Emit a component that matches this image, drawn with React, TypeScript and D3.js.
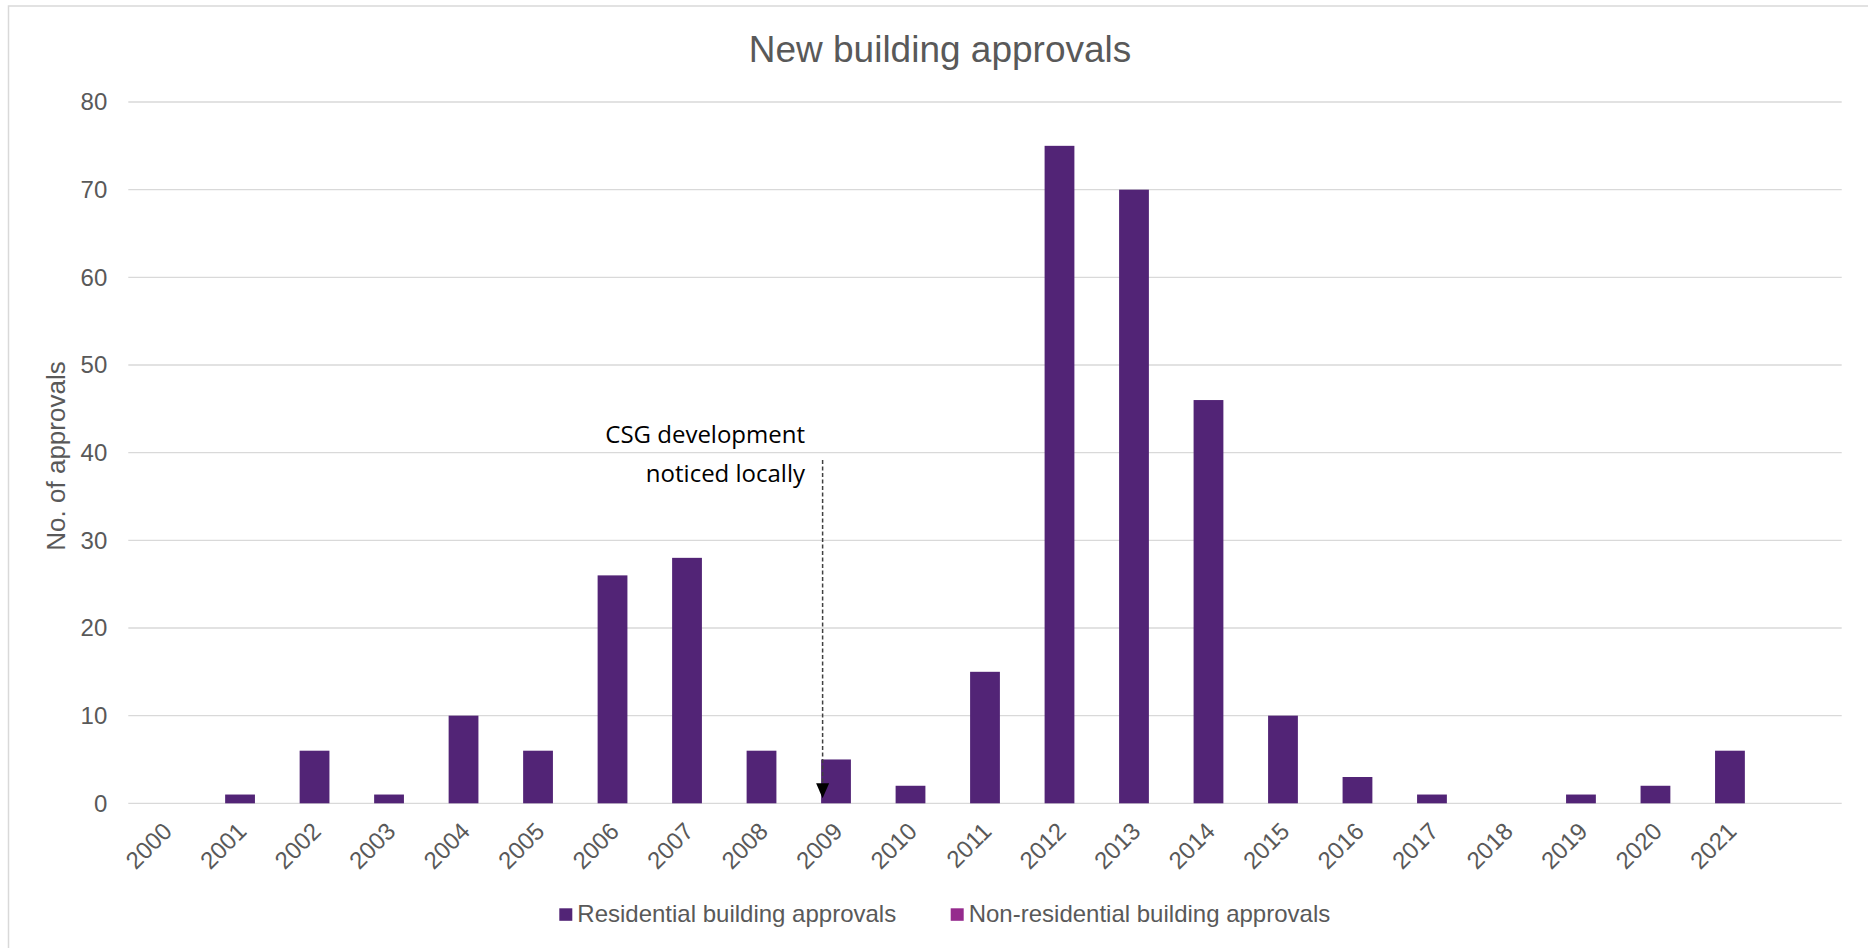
import React from "react";
import * as d3 from "d3";

const years = ["2000","2001","2002","2003","2004","2005","2006","2007","2008","2009","2010","2011","2012","2013","2014","2015","2016","2017","2018","2019","2020","2021"];
const residential = [0,1,6,1,10,6,26,28,6,5,2,15,75,70,46,10,3,1,0,1,2,6];
const nonResidential = [0,0,0,0,0,0,0,0,0,0,0,0,0,0,0,0,0,0,0,0,0,0];
const yTicks = [0,10,20,30,40,50,60,70,80];
const seriesNames = ["Residential building approvals", "Non-residential building approvals"];
const seriesColors = ["#522476", "#952A8D"];
const annotationLines = ["CSG development", "noticed locally"];
const annotationYear = "2009";
const titleText = "New building approvals";
const yAxisTitle = "No. of approvals";

const W = 1868, H = 948;
const plotLeft = 128.3, plotRight = 1841.7, plotTop = 102, plotBottom = 803.3;
const FONT = "'Liberation Sans', Arial, sans-serif";
const GRAY = "#595959";

export default function App() {
  const domain = [...years, "__blank"];
  const x = d3.scaleBand<string>().domain(domain).range([plotLeft, plotRight]).paddingInner(0).paddingOuter(0);
  const y = d3.scaleLinear().domain([0, 80]).range([plotBottom, plotTop]);
  const step = x.step();
  const barW = step * 0.4;

  const rows = years.map((yr, i) => ({ year: yr, res: residential[i], non: nonResidential[i] }));
  const stack = d3.stack<any>().keys(["res", "non"]);
  const stacked = stack(rows);

  const arrowX = (x(annotationYear) as number) + step * 0.3 + 1.5;
  const arrowTip = y(0) - 5;

  return (
    <svg width={W} height={H} style={{ position: "absolute", left: 0, top: 0, display: "block" }}>
      <rect x={0} y={0} width={W} height={H} fill="#fff" />
      <rect x={8.5} y={6} width={W + 20} height={H + 20} fill="none" stroke="#d9d9d9" strokeWidth={1.5} />
      <text x={940} y={61.7} textAnchor="middle" fontFamily={FONT} fontSize={37} fill={GRAY}>{titleText}</text>

      {yTicks.map(t => (
        <g key={t}>
          <line x1={plotLeft} x2={plotRight} y1={y(t)} y2={y(t)} stroke="#d9d9d9" strokeWidth={1.3} />
          <text x={107.3} y={y(t)} dy="0.35em" textAnchor="end" fontFamily={FONT} fontSize={24} fill={GRAY}>{t}</text>
        </g>
      ))}

      <text transform={`translate(65,456) rotate(-90)`} textAnchor="middle" fontFamily={FONT} fontSize={26} fill={GRAY}>{yAxisTitle}</text>

      {stacked.map((s, si) => (
        <g key={si} fill={seriesColors[si]}>
          {s.map((d, i) => {
            const h = y(d[0]) - y(d[1]);
            if (h <= 0) return null;
            const cx = (x(years[i]) as number) + step / 2;
            return <rect key={i} x={cx - barW / 2} y={y(d[1])} width={barW} height={h} />;
          })}
        </g>
      ))}

      {years.map(yr => {
        const cx = (x(yr) as number) + step / 2;
        return (
          <text key={yr} transform={`translate(${cx + 2},${plotBottom + 23.5}) rotate(-45)`} textAnchor="end" dy="0.35em" fontFamily={FONT} fontSize={24} fill={GRAY}>{yr}</text>
        );
      })}

      <line x1={arrowX} x2={arrowX} y1={460} y2={arrowTip - 12} stroke="#404040" strokeWidth={1.5} strokeDasharray="4,2.5" />
      <path d={`M${arrowX - 6.5},${arrowTip - 15} L${arrowX + 6.5},${arrowTip - 15} L${arrowX},${arrowTip} Z`} fill="#000" />
      {annotationLines.map((l, i) => (
        <text key={i} x={805} y={443 + i * 39} textAnchor="end" fontFamily="'Open Sans', sans-serif" fontSize={24} fill="#000">{l}</text>
      ))}

      {seriesNames.map((n, i) => {
        const lx = i === 0 ? 559.3 : 950.7;
        return (
          <g key={n}>
            <rect x={lx} y={908.3} width={13} height={12.5} fill={seriesColors[i]} />
            <text x={lx + 18} y={921.7} fontFamily={FONT} fontSize={24} fill={GRAY}>{n}</text>
          </g>
        );
      })}
    </svg>
  );
}
